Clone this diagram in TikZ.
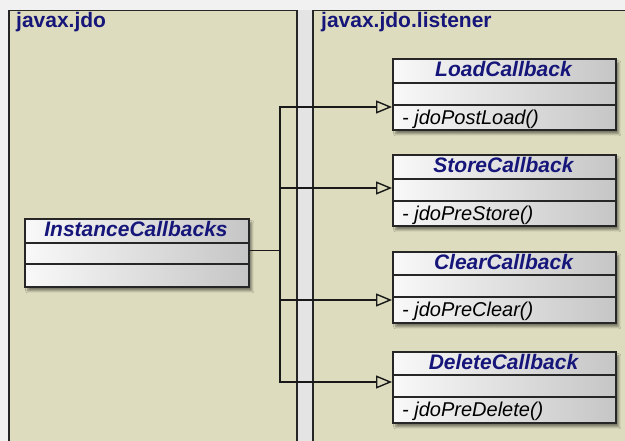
\documentclass[tikz,border=0pt]{standalone}
\usepackage{fontspec}
\setmainfont{Liberation Sans}
\usetikzlibrary{arrows.meta,shadows.blur}

\definecolor{pagefill}{RGB}{241,241,241}
\definecolor{gapfill}{RGB}{228,228,228}
\definecolor{pkgfill}{RGB}{222,220,190}
\definecolor{pkgtext}{RGB}{22,22,122}

\begin{document}
\begin{tikzpicture}[x=1pt,y=-1pt,
	pkg/.style={anchor=north west, draw=black!85, line width=1.5pt, fill=pkgfill, inner sep=0pt},
	pkglabel/.style={anchor=base west, inner sep=0pt, text=pkgtext, font=\fontsize{21}{24}\selectfont\bfseries},
	umlbox/.style={anchor=north west, draw=black!85, line width=1.6pt, minimum width=223pt, minimum height=71pt, inner sep=0pt, left color=gray!5, right color=gray!45, blur shadow={shadow xshift=3pt, shadow yshift=-4pt, shadow blur steps=6, shadow opacity=45}},
	classname/.style={anchor=base, inner sep=0pt, text=pkgtext, font=\fontsize{21}{24}\selectfont\bfseries\itshape},
	operation/.style={anchor=base west, inner sep=0pt, font=\fontsize{20}{24}\selectfont\itshape},
	sep/.style={draw=black!85, line width=1.4pt},
	realize/.style={draw=black!90, line width=1.4pt, -{Triangle[open, length=16pt, width=13pt, line width=1.4pt]}}]

	\useasboundingbox (0,0) rectangle (625,441);
	\clip (0,0) rectangle (625,441);
	\fill[pagefill] (0,0) rectangle (625,441);
	\fill[gapfill] (296,10) rectangle (312,441);

	% packages
	\node[pkg, minimum width=288pt, minimum height=460pt] (jdo) at (8,10) {};
	\node[pkglabel] (jdoname) at (16,28) {javax.jdo};
	\node[pkg, minimum width=330pt, minimum height=460pt] (listener) at (312,10) {};
	\node[pkglabel] (listenername) at (321,28) {javax.jdo.listener};

	% InstanceCallbacks
	\node[umlbox, minimum width=224pt, minimum height=68pt] (inst) at (24,218) {};
	\node[classname] (instname) at (136,237) {InstanceCallbacks};
	\draw[sep] ([yshift=-25pt]inst.north west) -- ([yshift=-25pt]inst.north east);
	\draw[sep] ([yshift=-46pt]inst.north west) -- ([yshift=-46pt]inst.north east);

	% LoadCallback
	\node[umlbox] (load) at (392,58) {};
	\node[classname] (loadname) at (503.5,77) {LoadCallback};
	\draw[sep] ([yshift=-25pt]load.north west) -- ([yshift=-25pt]load.north east);
	\draw[sep] ([yshift=-47pt]load.north west) -- ([yshift=-47pt]load.north east);
	\node[operation] (loadop) at (402,125) {- jdoPostLoad()};

	% StoreCallback
	\node[umlbox] (store) at (392,154) {};
	\node[classname] (storename) at (503.5,173) {StoreCallback};
	\draw[sep] ([yshift=-25pt]store.north west) -- ([yshift=-25pt]store.north east);
	\draw[sep] ([yshift=-47pt]store.north west) -- ([yshift=-47pt]store.north east);
	\node[operation] (storeop) at (402,221) {- jdoPreStore()};

	% ClearCallback
	\node[umlbox] (clear) at (392,251) {};
	\node[classname] (clearname) at (503.5,270) {ClearCallback};
	\draw[sep] ([yshift=-24pt]clear.north west) -- ([yshift=-24pt]clear.north east);
	\draw[sep] ([yshift=-46pt]clear.north west) -- ([yshift=-46pt]clear.north east);
	\node[operation] (clearop) at (402,317) {- jdoPreClear()};

	% DeleteCallback
	\node[umlbox] (delete) at (392,351) {};
	\node[classname] (deletename) at (503.5,370) {DeleteCallback};
	\draw[sep] ([yshift=-24pt]delete.north west) -- ([yshift=-24pt]delete.north east);
	\draw[sep] ([yshift=-46pt]delete.north west) -- ([yshift=-46pt]delete.north east);
	\node[operation] (deleteop) at (402,417) {- jdoPreDelete()};

	% realizations
	\coordinate (bus) at (280,250);
	\coordinate (loadin) at ([yshift=-49pt]load.north west);
	\coordinate (storein) at ([yshift=-34pt]store.north west);
	\coordinate (clearin) at ([yshift=-49pt]clear.north west);
	\coordinate (deletein) at ([yshift=-31pt]delete.north west);
	\draw[realize] ([yshift=2pt]inst.east) -| (bus |- loadin) -- (loadin);
	\draw[realize] ([yshift=2pt]inst.east) -| (bus |- storein) -- (storein);
	\draw[realize] ([yshift=2pt]inst.east) -| (bus |- clearin) -- (clearin);
	\draw[realize] ([yshift=2pt]inst.east) -| (bus |- deletein) -- (deletein);
\end{tikzpicture}
\end{document}
